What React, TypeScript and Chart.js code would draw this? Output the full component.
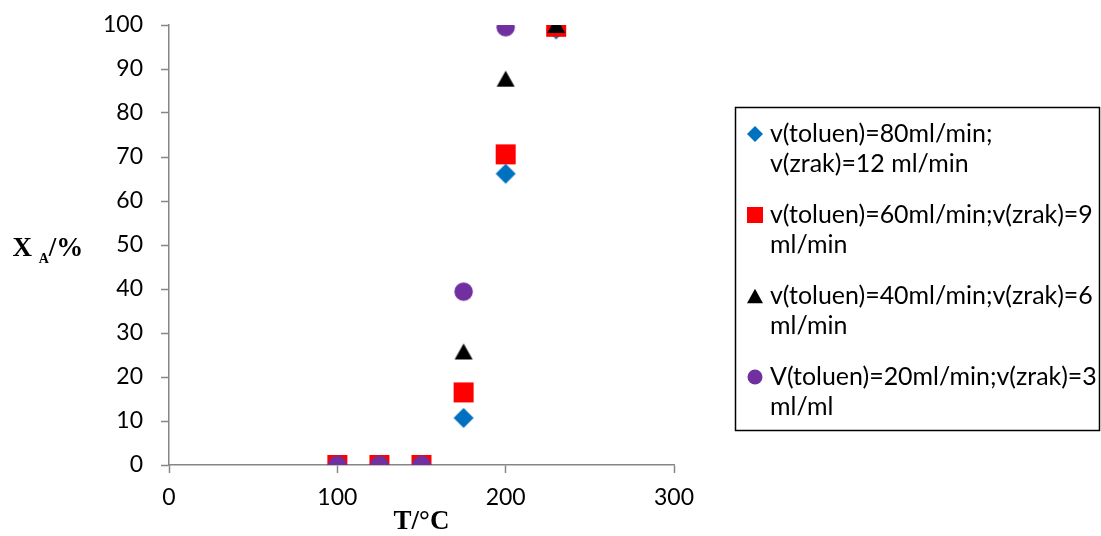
import React, { useEffect, useRef } from "react";
import { Chart, registerables } from "chart.js";

Chart.register(...registerables);

// ---- data ----
const temperatures = [100, 125, 150, 175, 200, 230];
const seriesDiamond = [0, 0, 0, 10.7, 66.2, 99.0];
const seriesSquare = [0, 0, 0, 16.5, 70.6, 99.6];
const seriesTriangle = [0, 0, 0, 25.8, 87.8, 100];
const seriesCircle = [0, 0, 0, 39.4, 99.5];

const labelDiamond = ["v(toluen)=80ml/min;", "v(zrak)=12 ml/min"];
const labelSquare = ["v(toluen)=60ml/min;v(zrak)=9", "ml/min"];
const labelTriangle = ["v(toluen)=40ml/min;v(zrak)=6", "ml/min"];
const labelCircle = ["V(toluen)=20ml/min;v(zrak)=3", "ml/ml"];

const xAxisMin = 0;
const xAxisMax = 300;
const xAxisStep = 100;
const yAxisMin = 0;
const yAxisMax = 100;
const yAxisStep = 10;

const yTitleMain = "X";
const yTitleSub = "A";
const yTitleTail = "/%";
const xTitle = "T/°C";

type Shape = "diamond" | "square" | "triangle" | "circle";

function drawShape(ctx: CanvasRenderingContext2D, shape: Shape, cx: number, cy: number, size: number, color: string) {
  const h = size / 2;
  ctx.save();
  ctx.fillStyle = color;
  ctx.beginPath();
  if (shape === "diamond") {
    ctx.moveTo(cx, cy - h);
    ctx.lineTo(cx + h, cy);
    ctx.lineTo(cx, cy + h);
    ctx.lineTo(cx - h, cy);
    ctx.closePath();
  } else if (shape === "square") {
    ctx.rect(cx - h, cy - h, size, size);
  } else if (shape === "triangle") {
    const th = size * 0.9;
    ctx.moveTo(cx, cy - th / 2);
    ctx.lineTo(cx + h, cy + th / 2);
    ctx.lineTo(cx - h, cy + th / 2);
    ctx.closePath();
  } else {
    ctx.arc(cx, cy, h, 0, Math.PI * 2);
  }
  ctx.fill();
  ctx.restore();
}

function makeMarker(shape: Shape, size: number, color: string): HTMLCanvasElement {
  const c = document.createElement("canvas");
  const dim = Math.ceil(size) + 2;
  c.width = dim;
  c.height = dim;
  const ctx = c.getContext("2d")!;
  drawShape(ctx, shape, dim / 2, dim / 2, size, color);
  return c;
}

const seriesDefs: { label: string[]; values: number[]; shape: Shape; color: string; size: number }[] = [
  { label: labelDiamond, values: seriesDiamond, shape: "diamond", color: "#0070C0", size: 20 },
  { label: labelSquare, values: seriesSquare, shape: "square", color: "#FF0000", size: 20 },
  { label: labelTriangle, values: seriesTriangle, shape: "triangle", color: "#000000", size: 18 },
  { label: labelCircle, values: seriesCircle, shape: "circle", color: "#7030A0", size: 18.5 },
];

const TICK_FONT = "Lato";
const TITLE_FONT = "'Liberation Serif', 'Times New Roman', serif";

const overlayPlugin = {
  id: "overlay",
  afterDraw(chart: any) {
    const ctx: CanvasRenderingContext2D = chart.ctx;
    const area = chart.chartArea;
    ctx.save();
    // Y title
    ctx.fillStyle = "#000";
    ctx.textBaseline = "alphabetic";
    ctx.textAlign = "left";
    ctx.font = `bold 27px ${TITLE_FONT}`;
    let x = 12.5;
    const base = 256;
    ctx.fillText(yTitleMain, x, base);
    x += ctx.measureText(yTitleMain + " ").width;
    ctx.font = `bold 14px ${TITLE_FONT}`;
    ctx.fillText(yTitleSub, x, base + 7);
    x += ctx.measureText(yTitleSub).width;
    ctx.font = `bold 27px ${TITLE_FONT}`;
    ctx.fillText(yTitleTail, x, base);
    // X title
    ctx.textAlign = "center";
    ctx.fillText(xTitle, (area.left + area.right) / 2, 529);

    // Legend
    const boxL = 735.5, boxT = 107.5, boxR = 1099.5, boxB = 430.5;
    ctx.strokeStyle = "#000";
    ctx.lineWidth = 1.5;
    ctx.strokeRect(boxL, boxT, boxR - boxL, boxB - boxT);

    ctx.font = `20px ${TICK_FONT}`;
    let widest = 0;
    seriesDefs.forEach((s) => s.label.forEach((l) => { widest = Math.max(widest, ctx.measureText(l).width); }));
    const fsize = 20 * 327 / widest;
    ctx.font = `${fsize}px ${TICK_FONT}`;
    ctx.textAlign = "left";
    ctx.textBaseline = "middle";
    ctx.fillStyle = "#000";
    const firstY = 134;
    const pitch = 81;
    const lineH = 30;
    seriesDefs.forEach((s, i) => {
      const y0 = firstY + pitch * i;
      drawShape(ctx, s.shape, 755, y0, s.shape === "circle" ? 15 : 16, s.color);
      s.label.forEach((line, j) => {
        ctx.fillStyle = "#000";
        ctx.fillText(line, 770, y0 + j * lineH);
      });
    });
    ctx.restore();
  },
};

export default function App() {
  const canvasRef = useRef<HTMLCanvasElement | null>(null);

  useEffect(() => {
    let chart: Chart | null = null;
    let cancelled = false;
    const fontsReady = (document as any).fonts
      ? Promise.all([
          (document as any).fonts.load(`23px ${TICK_FONT}`),
          (document as any).fonts.load(`bold 27px 'Liberation Serif'`),
        ]).catch(() => null)
      : Promise.resolve(null);

    fontsReady.then(() => {
      if (cancelled || !canvasRef.current) return;
      const datasets = seriesDefs.map((s, i) => ({
        label: s.label.join(" "),
        data: s.values.map((v, k) => ({ x: temperatures[k], y: v })),
        pointStyle: makeMarker(s.shape, s.size, s.color) as any,
        pointRadius: s.size / 2,
        pointHoverRadius: s.size / 2,
        backgroundColor: s.color,
        borderColor: s.color,
        showLine: false,
        order: seriesDefs.length - 1 - i,
      }));
      chart = new Chart(canvasRef.current, {
        type: "scatter",
        data: { datasets },
        plugins: [overlayPlugin],
        options: {
          animation: false,
          responsive: true,
          maintainAspectRatio: false,
          events: [],
          layout: { padding: { top: 25, right: 427, left: 0, bottom: 0 } },
          plugins: {
            legend: { display: false },
            tooltip: { enabled: false },
            title: { display: false },
          },
          scales: {
            x: {
              type: "linear",
              min: xAxisMin,
              max: xAxisMax,
              ticks: {
                stepSize: xAxisStep,
                color: "#000",
                font: { family: TICK_FONT, size: 23 },
                padding: 11,
                maxRotation: 0,
              },
              grid: {
                display: true,
                drawOnChartArea: false,
                drawTicks: true,
                tickLength: 8,
                tickColor: "#868686",
                tickWidth: 1.5,
              },
              border: { display: true, color: "#868686", width: 1.5 },
              afterFit: (scale: any) => {
                scale.height = 71;
                scale.paddingLeft = 0;
                scale.paddingRight = 0;
              },
            },
            y: {
              type: "linear",
              min: yAxisMin,
              max: yAxisMax,
              ticks: {
                stepSize: yAxisStep,
                color: "#000",
                font: { family: TICK_FONT, size: 23 },
                padding: 18,
              },
              grid: {
                display: true,
                drawOnChartArea: false,
                drawTicks: true,
                tickLength: 8,
                tickColor: "#868686",
                tickWidth: 1.5,
              },
              border: { display: true, color: "#868686", width: 1.5 },
              afterFit: (scale: any) => {
                scale.width = 169;
                scale.paddingTop = 0;
                scale.paddingBottom = 0;
              },
            },
          },
        } as any,
      });
    });

    return () => {
      cancelled = true;
      if (chart) chart.destroy();
    };
  }, []);

  return (
    <div style={{ position: "absolute", left: 0, top: 0, width: 1101, height: 536, background: "#fff" }}>
      <canvas ref={canvasRef} />
    </div>
  );
}
